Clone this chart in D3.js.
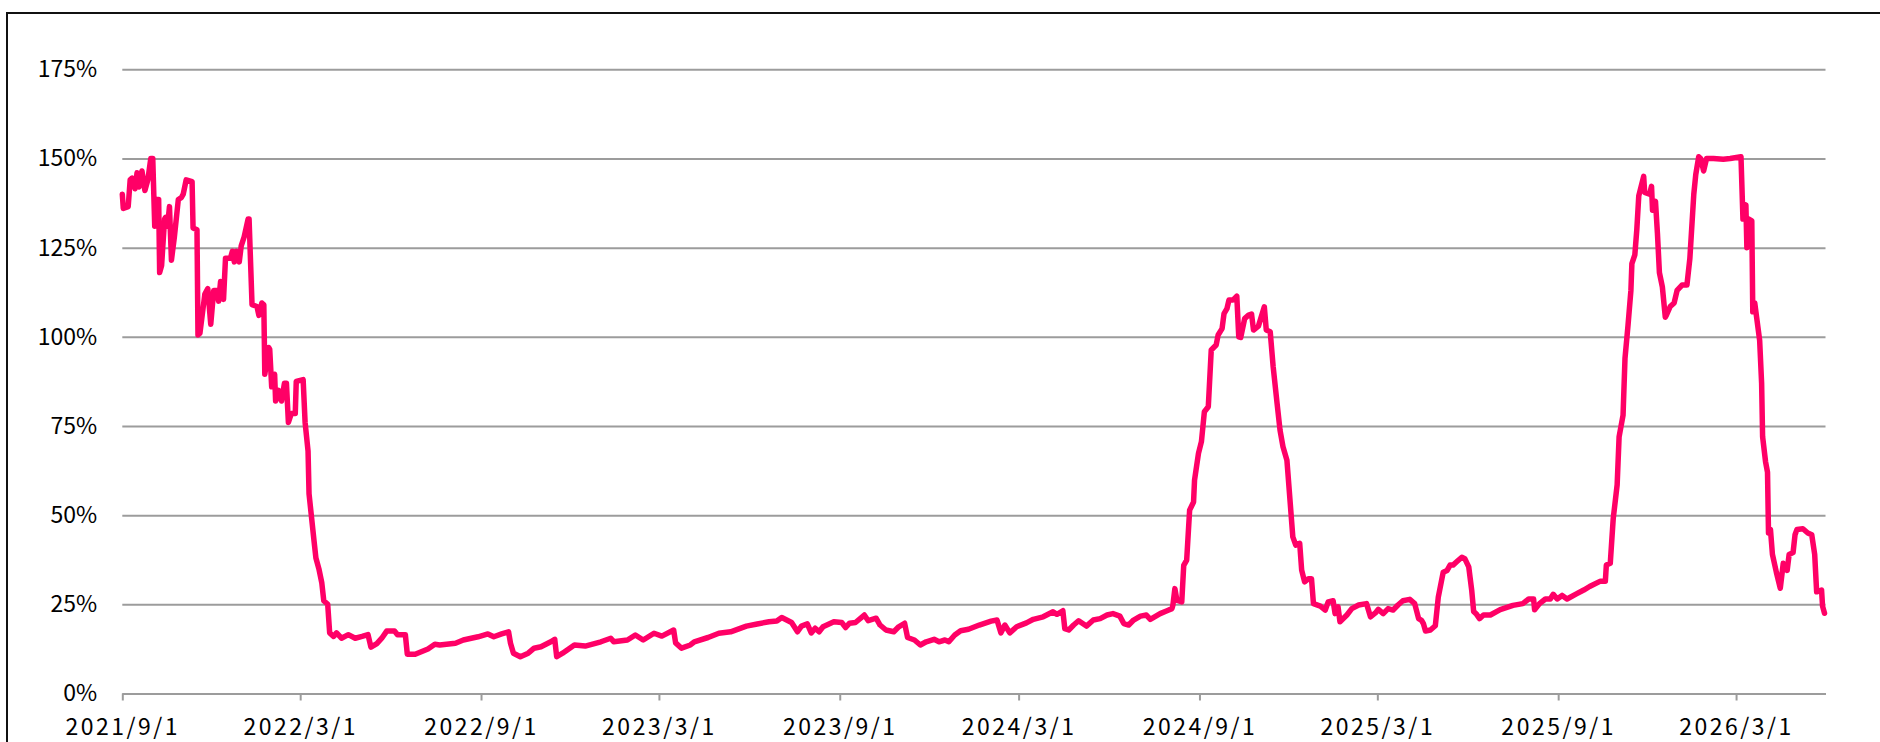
<!DOCTYPE html>
<html>
<head>
<meta charset="utf-8">
<script src="https://cdn.jsdelivr.net/npm/d3@7"></script>
<style>
  body { margin: 0; background: #fff; }
  svg text { font-family: "Noto Sans CJK JP", sans-serif; fill: #000; }
</style>
</head>
<body>
<div class="svg-container"></div>
<script>
// daily ratio (%)
const dates = [
  "2021-09-01","2021-09-02","2021-09-07","2021-09-09","2021-09-11","2021-09-14","2021-09-16","2021-09-18","2021-09-21","2021-09-24",
  "2021-09-27","2021-09-30","2021-10-02","2021-10-04","2021-10-06","2021-10-08","2021-10-09","2021-10-11","2021-10-14","2021-10-15",
  "2021-10-17","2021-10-19","2021-10-21","2021-10-24","2021-10-28","2021-10-31","2021-11-02","2021-11-05","2021-11-11","2021-11-12",
  "2021-11-16","2021-11-17","2021-11-19","2021-11-24","2021-11-27","2021-11-30","2021-12-03","2021-12-06","2021-12-08","2021-12-10",
  "2021-12-13","2021-12-15","2021-12-20","2021-12-22","2021-12-24","2021-12-26","2021-12-29","2021-12-31","2022-01-03","2022-01-07",
  "2022-01-08","2022-01-11","2022-01-16","2022-01-18","2022-01-21","2022-01-23","2022-01-24","2022-01-28","2022-01-29","2022-01-31",
  "2022-02-03","2022-02-04","2022-02-07","2022-02-10","2022-02-13","2022-02-15","2022-02-17","2022-02-20","2022-02-24","2022-02-25",
  "2022-03-04","2022-03-06","2022-03-09","2022-03-10","2022-03-15","2022-03-17","2022-03-20","2022-03-23","2022-03-25","2022-03-29",
  "2022-03-31","2022-04-04","2022-04-07","2022-04-12","2022-04-19","2022-04-26","2022-05-03","2022-05-09","2022-05-12","2022-05-18",
  "2022-05-23","2022-05-28","2022-06-05","2022-06-08","2022-06-16","2022-06-18","2022-06-26","2022-07-09","2022-07-16","2022-07-21",
  "2022-08-06","2022-08-14","2022-08-29","2022-09-08","2022-09-14","2022-09-22","2022-09-29","2022-10-01","2022-10-04","2022-10-11",
  "2022-10-19","2022-10-25","2022-11-01","2022-11-11","2022-11-15","2022-11-17","2022-11-23","2022-12-05","2022-12-16","2023-01-01",
  "2023-01-11","2023-01-14","2023-01-28","2023-02-05","2023-02-13","2023-02-24","2023-03-04","2023-03-16","2023-03-18","2023-03-24",
  "2023-04-02","2023-04-06","2023-04-20","2023-05-01","2023-05-13","2023-05-29","2023-06-09","2023-06-21","2023-06-29","2023-07-04",
  "2023-07-09","2023-07-14","2023-07-20","2023-07-24","2023-07-30","2023-08-03","2023-08-07","2023-08-11","2023-08-15","2023-08-26",
  "2023-09-03","2023-09-07","2023-09-11","2023-09-17","2023-09-26","2023-09-30","2023-10-08","2023-10-12","2023-10-18","2023-10-26",
  "2023-10-31","2023-11-06","2023-11-09","2023-11-16","2023-11-22","2023-11-28","2023-12-06","2023-12-11","2023-12-17","2023-12-21",
  "2023-12-27","2024-01-02","2024-01-10","2024-01-21","2024-02-02","2024-02-08","2024-02-12","2024-02-16","2024-02-21","2024-02-28",
  "2024-03-09","2024-03-16","2024-03-26","2024-04-05","2024-04-09","2024-04-15","2024-04-17","2024-04-21","2024-04-26","2024-05-01",
  "2024-05-09","2024-05-16","2024-05-23","2024-05-30","2024-06-05","2024-06-12","2024-06-16","2024-06-21","2024-06-26","2024-07-03",
  "2024-07-09","2024-07-13","2024-07-23","2024-07-30","2024-08-04","2024-08-05","2024-08-07","2024-08-09","2024-08-14","2024-08-16",
  "2024-08-19","2024-08-22","2024-08-26","2024-08-27","2024-08-31","2024-09-03","2024-09-06","2024-09-10","2024-09-13","2024-09-18",
  "2024-09-20","2024-09-24","2024-09-26","2024-09-29","2024-10-01","2024-10-05","2024-10-09","2024-10-11","2024-10-13","2024-10-17",
  "2024-10-21","2024-10-24","2024-10-26","2024-10-31","2024-11-06","2024-11-08","2024-11-12","2024-11-15","2024-11-19","2024-11-22",
  "2024-11-25","2024-11-29","2024-12-05","2024-12-08","2024-12-12","2024-12-14","2024-12-17","2024-12-21","2024-12-24","2024-12-26",
  "2025-01-02","2025-01-07","2025-01-10","2025-01-15","2025-01-17","2025-01-20","2025-01-22","2025-01-29","2025-02-03","2025-02-10",
  "2025-02-18","2025-02-22","2025-02-27","2025-03-02","2025-03-07","2025-03-12","2025-03-17","2025-03-22","2025-03-27","2025-04-03",
  "2025-04-08","2025-04-12","2025-04-15","2025-04-17","2025-04-19","2025-04-24","2025-04-29","2025-05-02","2025-05-07","2025-05-11",
  "2025-05-14","2025-05-17","2025-05-21","2025-05-26","2025-05-29","2025-06-02","2025-06-05","2025-06-07","2025-06-10","2025-06-13",
  "2025-06-17","2025-06-24","2025-07-04","2025-07-17","2025-07-27","2025-08-02","2025-08-07","2025-08-08","2025-08-13","2025-08-19",
  "2025-08-24","2025-08-27","2025-08-31","2025-09-05","2025-09-10","2025-09-20","2025-09-27","2025-10-03","2025-10-14","2025-10-19",
  "2025-10-20","2025-10-24","2025-10-27","2025-10-31","2025-11-02","2025-11-06","2025-11-08","2025-11-11","2025-11-14","2025-11-15",
  "2025-11-18","2025-11-20","2025-11-22","2025-11-27","2025-11-28","2025-12-03","2025-12-05","2025-12-06","2025-12-09","2025-12-11",
  "2025-12-13","2025-12-16","2025-12-19","2025-12-20","2025-12-24","2025-12-28","2025-12-31","2026-01-05","2026-01-10","2026-01-13",
  "2026-01-17","2026-01-19","2026-01-22","2026-01-24","2026-01-27","2026-01-30","2026-02-06","2026-02-16","2026-02-23","2026-03-06",
  "2026-03-08","2026-03-11","2026-03-12","2026-03-14","2026-03-17","2026-03-18","2026-03-20","2026-03-25","2026-03-27","2026-03-28",
  "2026-03-31","2026-04-02","2026-04-03","2026-04-05","2026-04-07","2026-04-11","2026-04-15","2026-04-18","2026-04-22","2026-04-24",
  "2026-04-28","2026-04-30","2026-05-02","2026-05-08","2026-05-13","2026-05-17","2026-05-20","2026-05-22","2026-05-27","2026-05-28",
  "2026-05-30"
];

const values = [
  140, 136, 136.5, 144, 144.5, 141.5, 146, 142, 146.5, 141,
  144, 150, 150, 131, 138.5, 138.5, 118, 120, 133, 133.5,
  131, 136.5, 121.5, 128, 138.5, 139, 140, 144, 143.5, 130.5,
  130, 100.5, 101, 112, 113.5, 103.5, 113, 113, 110, 115.5,
  110.5, 122, 122, 124, 121, 124, 121, 125.5, 128, 133,
  133, 109, 108.5, 106, 109.5, 109, 89.5, 97, 96.5, 86,
  89.5, 82, 85, 82, 87, 87, 76, 78.5, 78.5, 87.5,
  88, 76, 68, 56, 43, 38, 35, 31, 26, 25,
  17, 16, 17, 15.5, 16.5, 15.5, 16, 16.5, 13, 14,
  15.5, 17.5, 17.5, 16.5, 16.5, 11, 11, 12.5, 13.8, 13.6,
  14.1, 15.0, 15.9, 16.7, 15.9, 16.7, 17.3, 14.1, 11.3, 10.3,
  11.3, 12.7, 13.1, 14.5, 15.2, 10.3, 11.3, 13.6, 13.3, 14.5,
  15.5, 14.5, 15.0, 16.4, 15.0, 16.9, 16.1, 17.8, 14.2, 12.7,
  13.6, 14.5, 15.7, 16.9, 17.3, 18.9, 19.5, 20.1, 20.3, 21.3,
  20.6, 19.9, 17.3, 18.9, 19.5, 17.0, 18.3, 17.3, 18.7, 20.1,
  19.9, 18.5, 19.7, 19.9, 22.0, 20.4, 21.1, 19.2, 17.8, 17.3,
  18.7, 19.7, 15.7, 15.0, 13.6, 14.5, 15.2, 14.5, 15.0, 14.5,
  16.4, 17.6, 18.0, 19.2, 20.3, 20.6, 17.0, 19.2, 17.0, 18.7,
  19.8, 20.8, 21.5, 22.9, 22.2, 23.2, 18.2, 17.8, 19.2, 20.4,
  18.9, 20.6, 21.0, 22.0, 22.4, 21.7, 19.6, 19.2, 20.6, 21.7,
  22.0, 20.8, 22.4, 23.2, 23.8, 24.8, 29.4, 26.2, 25.7, 35.9,
  37.4, 51.4, 53.7, 59.8, 67.3, 70.6, 79.0, 80.4, 96.3, 97.7,
  100.5, 102.3, 106.5, 107.9, 110.3, 110.3, 111.4, 100.0, 99.8, 105.1,
  106.1, 106.4, 101.9, 103.0, 108.4, 101.9, 101.4, 91.6, 81.3, 73.8,
  69.2, 65.4, 43.9, 41.6, 42.1, 34.6, 31.3, 32.2, 32.2, 25.2,
  24.5, 23.4, 25.7, 26.0, 22.4, 24.3, 20.1, 22.0, 23.8, 24.8,
  25.2, 21.5, 22.6, 23.6, 22.4, 23.8, 23.4, 24.8, 26.0, 26.4,
  25.2, 21.0, 20.5, 19.5, 17.5, 17.8, 19.0, 27.0, 34.0, 34.5,
  36.0, 36.0, 37.0, 38.2, 37.8, 35.5, 29.0, 23.0, 22.2, 21.0,
  22.0, 22.0, 23.5, 24.7, 25.2, 26.5, 26.5, 23.5, 25.2, 26.5,
  26.5, 27.8, 26.5, 27.5, 26.5, 28.0, 29.0, 30.0, 31.5, 31.5,
  36.0, 36.5, 49.0, 58.5, 72.0, 78.0, 94.0, 103.0, 113.0, 120.5,
  123.0, 130.0, 139.5, 145.0, 140.5, 140.0, 142.2, 135.5, 138.0, 129.0,
  118.0, 114.0, 105.5, 106.0, 108.5, 109.5, 113.0, 114.5, 114.5, 122.0,
  140.0, 145.5, 150.5, 150.0, 146.5, 150.0, 150.0, 149.8, 150.0, 150.5,
  133.0, 137.0, 125.0, 133.0, 132.5, 107.0, 109.5, 99.0, 87.0, 72.0,
  65.0, 62.0, 45.0, 46.0, 39.0, 34.0, 29.5, 36.5, 34.5, 39.0,
  39.5, 44.5, 46.0, 46.2, 45.0, 44.5, 39.0, 28.5, 29.0, 24.5,
  22.5
];

const xTickDates = ["2021-09-01","2022-03-01","2022-09-01","2023-03-01","2023-09-01",
                    "2024-03-01","2024-09-01","2025-03-01","2025-09-01","2026-03-01"];
const xTickLabels = ["2021/9/1","2022/3/1","2022/9/1","2023/3/1","2023/9/1",
                     "2024/3/1","2024/9/1","2025/3/1","2025/9/1","2026/3/1"];
const yTicks = [0, 25, 50, 75, 100, 125, 150, 175];

let W = 1880, H = 742;
let margin = {top: 69.3, right: 1880 - 1825.5, bottom: 742 - 693.5, left: 122.3},
    width = W - margin.left - margin.right,
    height = H - margin.top - margin.bottom;

let parse = d3.timeParse("%Y-%m-%d");
let data = dates.map((d, i) => ({date: parse(d), value: values[i]}));

let svg = d3.select(".svg-container").append("svg")
  .attr("width", W)
  .attr("height", H);

// outer chart frame (right / bottom edges fall outside the picture)
svg.append("rect")
  .attr("x", 7).attr("y", 13)
  .attr("width", W + 40).attr("height", H + 40)
  .attr("fill", "none")
  .attr("stroke", "#111")
  .attr("stroke-width", 2);

let g = svg.append("g")
  .attr("transform", "translate(" + margin.left + "," + margin.top + ")");

let x = d3.scaleTime()
  .domain([parse("2021-09-01"), parse("2026-05-31")])
  .range([0, width]);

let y = d3.scaleLinear()
  .domain([0, 175])
  .range([height, 0]);

// horizontal gridlines + % labels
let yAxis = d3.axisLeft(y)
  .tickValues(yTicks)
  .tickSize(-width)
  .tickPadding(25)
  .tickFormat(d => d + "%");

g.append("g")
  .attr("class", "y-axis")
  .call(yAxis)
  .call(a => a.select(".domain").remove())
  .call(a => a.selectAll("line").attr("stroke", "#9c9c9c").attr("stroke-width", 2))
  .call(a => a.selectAll("text").style("font-size", "23px"));

// date axis
let xAxis = d3.axisBottom(x)
  .tickValues(xTickDates.map(parse))
  .tickSizeInner(7)
  .tickSizeOuter(0)
  .tickPadding(18)
  .tickFormat((d, i) => xTickLabels[i]);

g.append("g")
  .attr("class", "x-axis")
  .attr("transform", "translate(0," + height + ")")
  .call(xAxis)
  .call(a => a.select(".domain").attr("stroke", "#9c9c9c").attr("stroke-width", 2))
  .call(a => a.selectAll("line").attr("stroke", "#9c9c9c").attr("stroke-width", 2))
  .call(a => a.selectAll("text").style("font-size", "23px").style("letter-spacing", "2.5px"));

let line = d3.line()
  .x(d => x(d.date))
  .y(d => y(d.value));

g.append("path")
  .datum(data)
  .attr("fill", "none")
  .attr("stroke", "#ff0066")
  .attr("stroke-width", 5.5)
  .attr("stroke-linejoin", "round")
  .attr("stroke-linecap", "round")
  .attr("d", line);
</script>
</body>
</html>
